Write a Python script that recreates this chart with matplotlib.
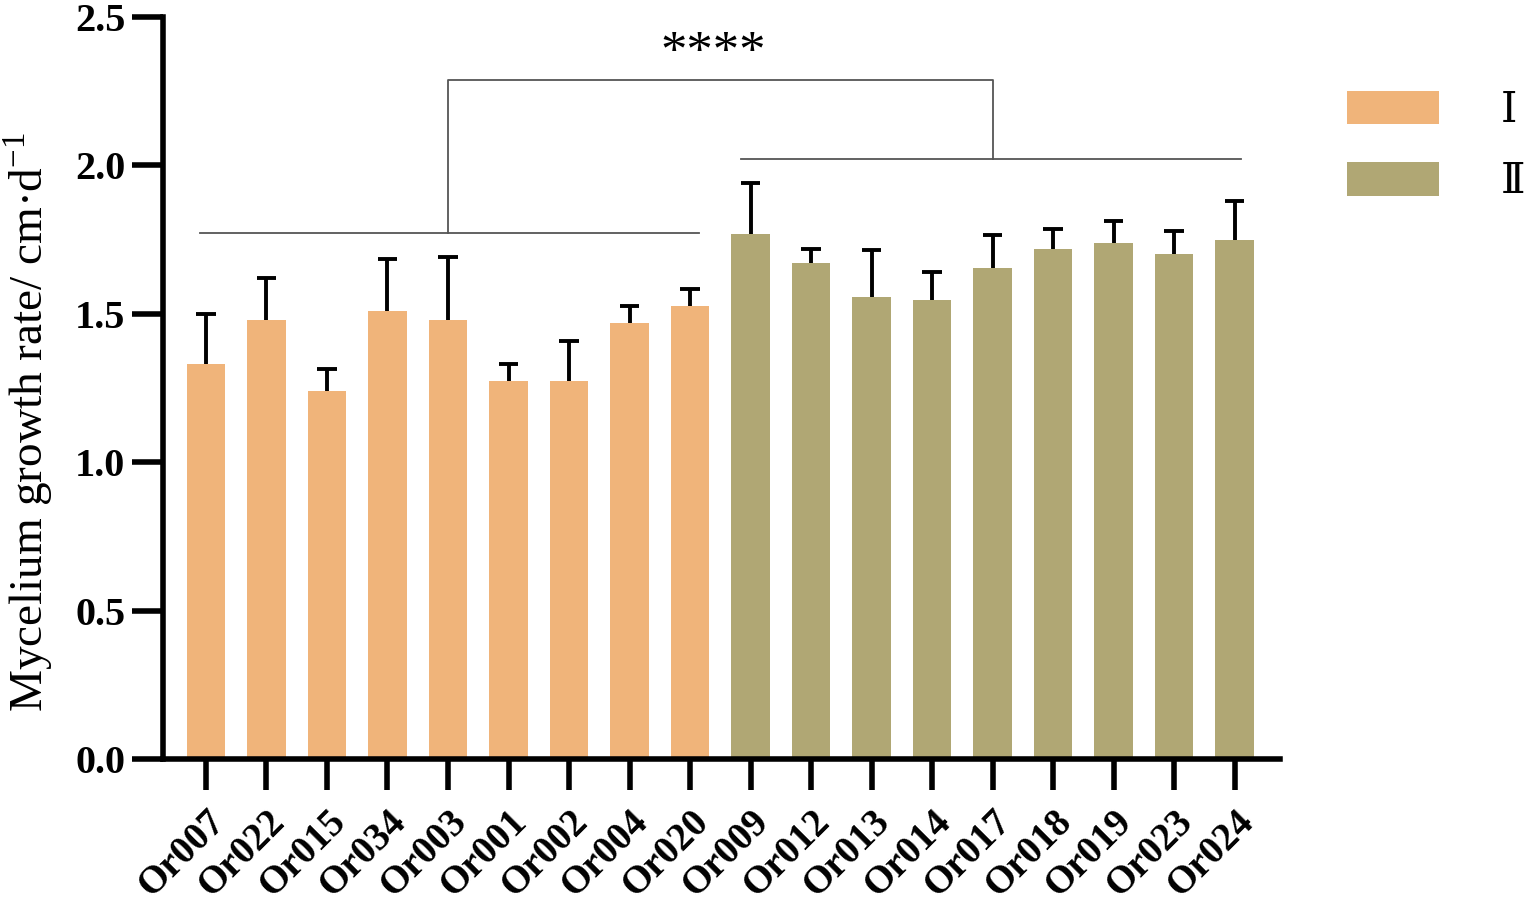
import numpy as np
import matplotlib
matplotlib.use("Agg")
import matplotlib.pyplot as plt
from matplotlib.patches import Patch

plt.rcParams['font.family'] = ['Liberation Serif', 'DejaVu Serif', 'Noto Sans CJK SC']
plt.rcParams['mathtext.fontset'] = 'custom'
plt.rcParams['mathtext.rm'] = 'Liberation Serif'

# strain names, group I then group II
strains_1 = ["Or007", "Or022", "Or015", "Or034", "Or003", "Or001", "Or002", "Or004", "Or020"]
strains_2 = ["Or009", "Or012", "Or013", "Or014", "Or017", "Or018", "Or019", "Or023", "Or024"]

# mean growth rate (cm/d) and standard deviation
rate_1 = [1.33, 1.48, 1.24, 1.51, 1.48, 1.275, 1.275, 1.47, 1.525]
err_1 = [0.17, 0.14, 0.075, 0.175, 0.21, 0.057, 0.135, 0.055, 0.06]
rate_2 = [1.77, 1.67, 1.555, 1.545, 1.655, 1.72, 1.74, 1.70, 1.75]
err_2 = [0.17, 0.05, 0.16, 0.095, 0.11, 0.065, 0.073, 0.08, 0.13]

group_labels = ["\u2160", "\u2161"]
colors = ["#F0B47A", "#B0A774"]

names = strains_1 + strains_2
rates = np.array(rate_1 + rate_2)
errs = np.array(err_1 + err_2)
x = np.arange(len(names))
bar_colors = [colors[0]] * len(strains_1) + [colors[1]] * len(strains_2)

fig = plt.figure(figsize=(15.32, 9.07), dpi=100)
ax = fig.add_axes([163 / 1532, 1 - 759 / 907, (1280 - 163) / 1532, (759 - 17) / 907])

ax.bar(x, rates, width=0.64, color=bar_colors, zorder=2)
# upper error bars only, with a cap
ax.vlines(x, rates, rates + errs, color='black', lw=2.8, zorder=3)
ax.hlines(rates + errs, x - 0.16, x + 0.16, color='black', lw=2.8, zorder=3)

# significance brackets
n1 = len(strains_1)
lc = '#555555'
y1, y2, ytop = 1.772, 2.022, 2.288
ax.plot([-0.1, n1 - 1 + 0.15], [y1, y1], color=lc, lw=1.3)
ax.plot([n1 - 0.15, len(names) - 1 + 0.1], [y2, y2], color=lc, lw=1.3)
xa, xb = 4.0, 13.0
ax.plot([xa, xa, xb, xb], [y1, ytop, ytop, y2], color=lc, lw=1.3)
ax.text(8.38, 2.33, "****", ha='center', va='baseline', fontsize=38)

ax.set_xlim(-0.71, 17.75)
ax.set_ylim(0, 2.5)
ax.set_yticks([0, 0.5, 1.0, 1.5, 2.0, 2.5])
ax.set_yticklabels(["0.0", "0.5", "1.0", "1.5", "2.0", "2.5"], fontweight='bold', fontsize=29)
ax.set_xticks(x)
ax.set_xticklabels(names, rotation=45, ha='right', rotation_mode='anchor',
                   fontweight='bold', fontsize=28)
ax.tick_params(axis='both', width=4, length=22, direction='out')
ax.tick_params(axis='x', pad=10)
ax.tick_params(axis='y', pad=5)

for s in ['top', 'right']:
    ax.spines[s].set_visible(False)
for s in ['left', 'bottom']:
    ax.spines[s].set_linewidth(4)

ax.set_ylabel("Mycelium growth rate/ cm\u00b7d$^{-1}$", fontsize=34)
ax.yaxis.set_label_coords(-0.097, 0.454)

handles = [Patch(facecolor=c, edgecolor='none') for c in colors]
fig.legend(handles, group_labels, loc='upper left', bbox_to_anchor=(1347 / 1532, 1 - 91 / 907),
           borderaxespad=0, borderpad=0, frameon=False, fontsize=30,
           handlelength=2.2, handleheight=0.85, handletextpad=1.5, labelspacing=0.75)

fig.savefig("out.png", dpi=100)
